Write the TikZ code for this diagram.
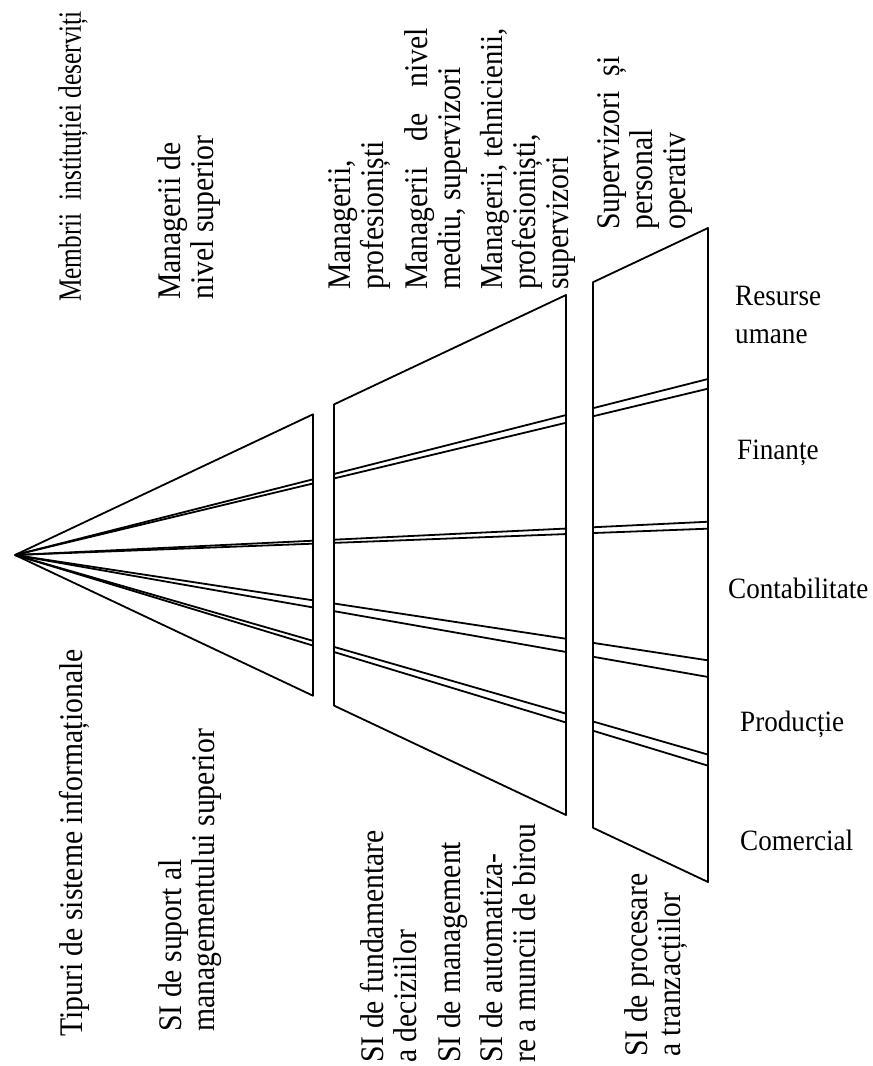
\documentclass[tikz,border=0pt]{standalone}
\usepackage{fontspec}
\setmainfont{Liberation Serif}
% slightly condensed cuts of the serif face used for the labels
\newfontfamily\rotfont[FakeStretch=0.9]{Liberation Serif}
\newfontfamily\narrowfont[FakeStretch=0.78]{Liberation Serif}
\newfontfamily\sidefont[FakeStretch=0.92]{Liberation Serif}
\begin{document}
\begin{tikzpicture}[x=1pt,y=-1pt,
  edge/.style={line width=1.8pt, line join=round},
  thickedge/.style={line width=2.7pt},
  rottext/.style={rotate=90, anchor=north west, inner sep=0pt, align=left,
                  font=\rotfont\fontsize{33}{33}\selectfont},
  sidetext/.style={anchor=base west, inner sep=0pt, align=left,
                   font=\sidefont\fontsize{29.5}{38}\selectfont}]
\useasboundingbox (0,0) rectangle (873,1066);

% common vertex of the fan: every line is a ray y = 555 + s (x - 15)
\coordinate (apex) at (15,555);

% outer edges of the three slabs (s = -0.472 and s = +0.472)
\draw[edge] (apex) -- (313,414.3) -- (313,695.7) -- cycle;
\draw[edge] (334,404.4) -- (566,295.0) -- (566,815.0) -- (334,705.6) -- cycle;
\draw[edge] (593,282.2) -- (708,228.0) -- (708,882.0) -- (593,827.8) -- cycle;
\draw[thickedge] (593,282.2) -- (593,827.8);

% double dividing lines between the functional areas
\foreach \s in {-0.254,-0.240,-0.048,-0.038,0.152,0.176,0.288,0.304} {
  \draw[edge] (apex) -- (313,{555+\s*298});
  \draw[edge] (334,{555+\s*319}) -- (566,{555+\s*551});
  \draw[edge] (593,{555+\s*578}) -- (708,{555+\s*693});
}

% levels of staff (above)
\node[rottext, font=\narrowfont\fontsize{32.5}{33}\selectfont] (membrii) at (58,302) {Membrii\ \ instituției deserviți};
\node[rottext] (mgsup) at (157.7,300) {Managerii de\\nivel superior};
\node[rottext] (mgprof) at (328.7,290) {Managerii,\\profesioniști};
\node[rottext] (mgmed) at (404.7,290) {Managerii\hspace{26pt}de\hspace{26pt}nivel\\mediu, supervizori};
\node[rottext] (mgteh) at (479.9,290) {{\fontsize{32}{33}\selectfont Managerii, tehnicienii,}\\profesioniști,\\supervizori};
\node[rottext] (superv) at (597.7,230) {Supervizori\ \ și\\personal\\operativ};

% types of information systems (below)
\node[rottext] (tipuri) at (58.7,1037) {Tipuri de sisteme informaționale};
\node[rottext] (sisup) at (158.7,1032) {SI de suport al\\managementului superior};
\node[rottext] (sifund) at (359.7,1063) {SI de fundamentare\\a deciziilor};
\node[rottext] (simgmt) at (437.7,1063) {SI de management};
\node[rottext] (siauto) at (479.7,1063) {SI de automatiza-\\re a muncii de birou};
\node[rottext] (siproc) at (624.7,1057) {SI de procesare\\a tranzacțiilor};

% functional areas (right)
\node[sidetext, anchor=north west] (resurse) at (735,286) {Resurse\\umane};
\node[sidetext] (finante) at (737,459) {Finanțe};
\node[sidetext] (contab) at (728,598) {Contabilitate};
\node[sidetext] (productie) at (740,731) {Producție};
\node[sidetext] (comercial) at (740,850) {Comercial};
\end{tikzpicture}
\end{document}
